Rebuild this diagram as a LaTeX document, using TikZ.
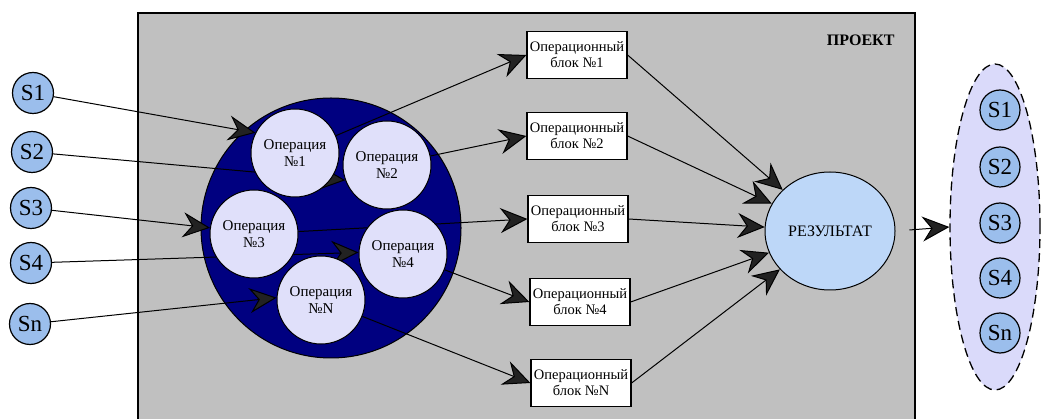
\documentclass[tikz,border=0pt]{standalone}
\usepackage{fontspec}
\setmainfont{Liberation Serif}
\newfontfamily\tnr{Liberation Serif}
\usepackage{tikz}
\usetikzlibrary{arrows.meta}
\usetikzlibrary{shapes.geometric,positioning}
\pgfdeclarelayer{bg}
\pgfdeclarelayer{edges}
\pgfsetlayers{bg,edges,main}
\definecolor{projgray}{RGB}{192,192,192}
\definecolor{opnavy}{RGB}{0,0,128}
\definecolor{oplav}{RGB}{224,224,250}
\definecolor{sblue}{RGB}{155,190,236}
\definecolor{resblue}{RGB}{189,215,248}
\definecolor{outlav}{RGB}{218,218,250}
\definecolor{tipgray}{RGB}{34,34,34}

\begin{document}
\begin{tikzpicture}[x=1pt, y=-1pt,
	link/.style={line width=1pt, -{Stealth[length=27pt, width=25pt, inset=9pt, fill=tipgray]}},
	scirc/.style={circle, draw, line width=1.2pt, fill=sblue, inner sep=0pt, minimum size=41pt, font=\tnr\fontsize{23}{23}\selectfont},
	opc/.style={circle, draw, line width=1pt, fill=oplav, inner sep=0pt, minimum size=88pt, align=center, font=\tnr\fontsize{15}{17}\selectfont},
	blk/.style={rectangle, draw, line width=1.2pt, fill=white, inner sep=0pt, minimum width=100pt, minimum height=47pt, align=center, font=\tnr\fontsize{14.5}{16}\selectfont}]
	\useasboundingbox (0,0) rectangle (1041,419);
	
	% ===================== 灰色背景 (项目) =====================
	\begin{pgfonlayer}{bg}
		\fill[projgray] (138,13) rectangle (915,419);
		\draw[line width=1.4pt] (138,419) -- (138,13) -- (915,13) -- (915,419);
		\node[circle, draw, line width=1pt, fill=opnavy, minimum size=260pt] (pool) at (331,228) {};
	\end{pgfonlayer}
	\node[anchor=east, font=\tnr\bfseries\fontsize{16}{16}\selectfont] (ttl) at (898,40) {ПРОЕКТ};
	
	% 左侧 S 节点
	\node[scirc] (s1) at (33,93) {S1};
	\node[scirc] (s2) at (32,152) {S2};
	\node[scirc] (s3) at (31,208) {S3};
	\node[scirc] (s4) at (31,263) {S4};
	\node[scirc] (sn) at (30,324) {Sn};
	
	% 操作
	\node[opc] (op1) at (295,153) {Операция\\№1};
	\node[opc] (op2) at (387,165) {Операция\\№2};
	\node[opc] (op3) at (254,234) {Операция\\№3};
	\node[opc] (op4) at (403,254) {Операция\\№4};
	\node[opc] (opn) at (321,300) {Операция\\№N};
	
	% 操作块
	\node[blk] (b1) at (577,55) {Операционный\\блок №1};
	\node[blk] (b2) at (577,136) {Операционный\\блок №2};
	\node[blk] (b3) at (578,219) {Операционный\\блок №3};
	\node[blk] (b4) at (580,302) {Операционный\\блок №4};
	\node[blk] (bn) at (581,383) {Операционный\\блок №N};
	
	% 结果
	\node[ellipse, draw, line width=1pt, fill=resblue, inner sep=0pt, minimum width=130pt, minimum height=118pt, font=\tnr\fontsize{16}{16}\selectfont] (res) at (830,231) {РЕЗУЛЬТАТ};
	
	% ===================== 右侧椭圆 =====================
	\node[ellipse, draw, dash pattern=on 9pt off 5pt, line width=1.3pt, fill=outlav, minimum width=90pt, minimum height=326pt] (out) at (995,227) {};
	\node[scirc, minimum size=40pt] (r1) at (1000,110) {S1};
	\node[scirc, minimum size=40pt] (r2) at (1000,167) {S2};
	\node[scirc, minimum size=40pt] (r3) at (1000,223) {S3};
	\node[scirc, minimum size=40pt] (r4) at (1000,278) {S4};
	\node[scirc, minimum size=40pt] (rn) at (1000,333) {Sn};
	
	% 黑色箭头
	\begin{pgfonlayer}{edges}
		\draw[link] (s1) -- (op1.153);
		\draw[link] (s2) -- (op2.200);
		\draw[link] (s3) -- (op3.172);
		\draw[link] (s4) -- (op4.178);
		\draw[link] (sn) -- (opn.177);
		
		\draw[link] (op1) -- (b1.west);
		\draw[link] (op2) -- (b2.west);
		\draw[link] (op3) -- (b3.west);
		\draw[link] (op4) -- (b4.west);
		\draw[link] (opn) -- (bn.west);
		
		\draw[link] (b1.east) -- (res);
		\draw[link] (b2.east) -- (res);
		\draw[link] (b3.east) -- (res);
		\draw[link] (b4.east) -- (res);
		\draw[link] (bn.east) -- (res);
		
		\draw[link, shorten <=14pt] (res.east) -- (out.west);
	\end{pgfonlayer}
\end{tikzpicture}
\end{document}
